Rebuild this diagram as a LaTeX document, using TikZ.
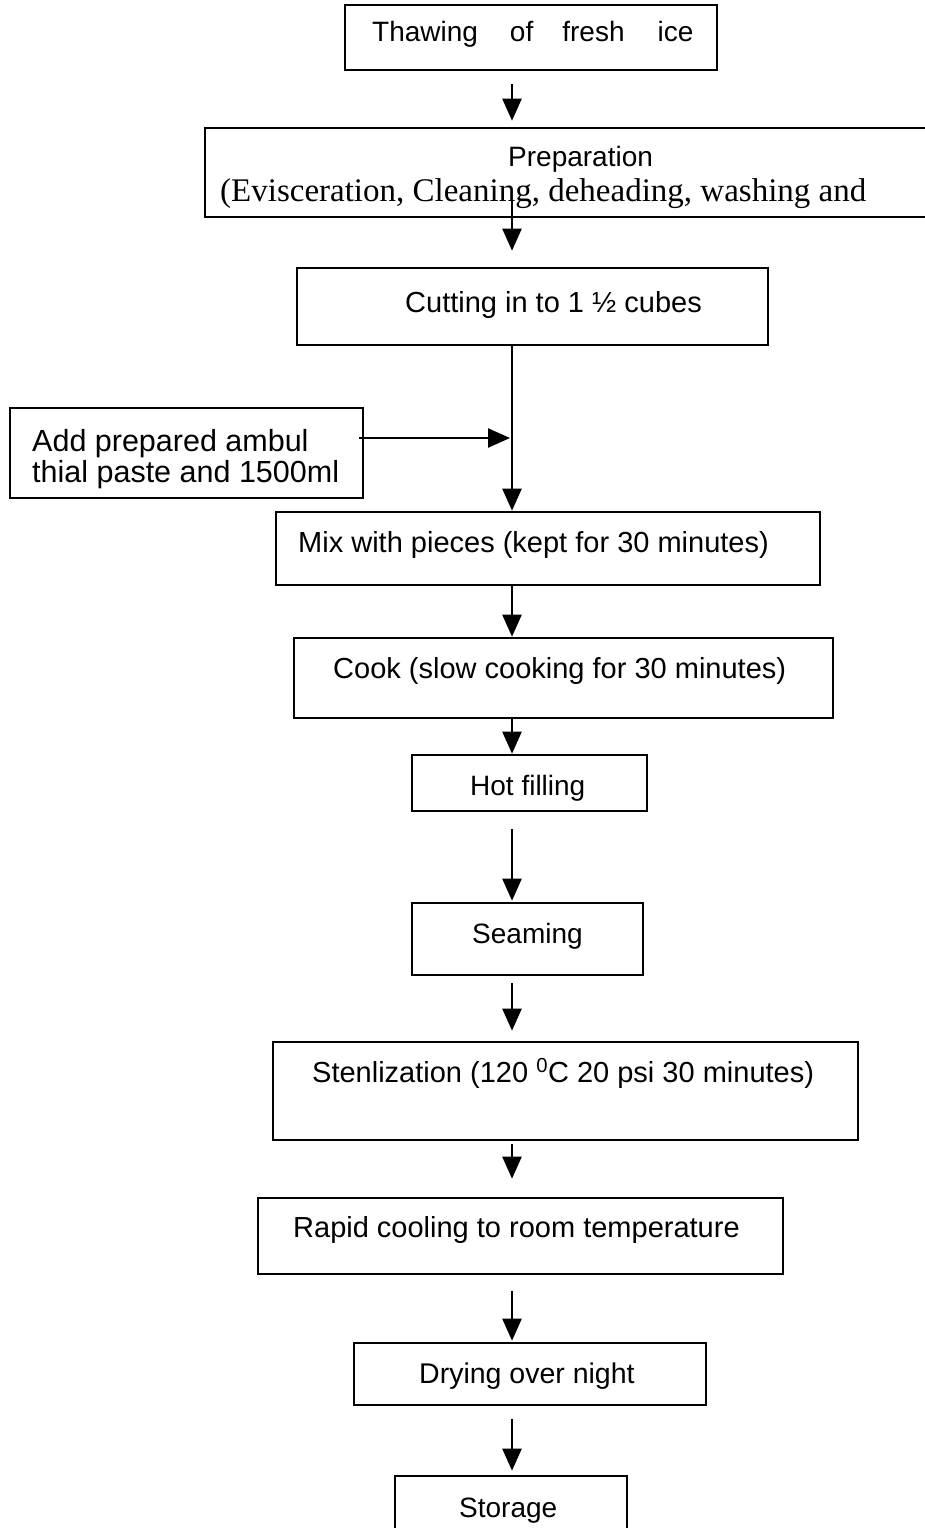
\documentclass[tikz,border=0pt]{standalone}
\usepackage{fontspec}
\setmainfont{Liberation Sans}
\newfontfamily\serifx{Liberation Serif}
\usetikzlibrary{arrows.meta}
\begin{document}
\begin{tikzpicture}[x=1pt,y=-1pt,
  box/.style={draw, line width=2.6pt, rectangle, inner sep=0pt},
  lbl/.style={inner sep=0pt, anchor=base west, font=\fontsize{29}{33}\selectfont},
  arr/.style={line width=2.4pt, -{Triangle[length=22pt,width=19pt]}}]
\useasboundingbox (0,0) rectangle (924,1528);
\coordinate (ax) at (512,0);
% boxes
\node[box, minimum width=372pt, minimum height=65pt] (b1) at (531,37.5) {};
\node[box, minimum width=723pt, minimum height=89pt] (b2) at (566.5,172.5) {};
\node[box, minimum width=471pt, minimum height=77pt] (b3) at (532.5,306.5) {};
\node[box, minimum width=353pt, minimum height=90pt] (b4) at (186.5,453) {};
\node[box, minimum width=544pt, minimum height=73pt] (b5) at (548,548.5) {};
\node[box, minimum width=539pt, minimum height=80pt] (b6) at (563.5,678) {};
\node[box, minimum width=235pt, minimum height=56pt] (b7) at (529.5,783) {};
\node[box, minimum width=231pt, minimum height=72pt] (b8) at (527.5,939) {};
\node[box, minimum width=585pt, minimum height=98pt] (b9) at (565.5,1091) {};
\node[box, minimum width=525pt, minimum height=76pt] (b10) at (520.5,1236) {};
\node[box, minimum width=352pt, minimum height=62pt] (b11) at (530,1374) {};
\node[box, minimum width=232pt, minimum height=84pt] (b12) at (511,1518) {};
% texts
\node[lbl, font=\fontsize{28}{32}\selectfont] (t1) at (372,42) {Thawing\hspace{32pt}of\hspace{29pt}fresh\hspace{33pt}ice};
\node[lbl, font=\fontsize{28}{32}\selectfont] (t2a) at (508,166) {Preparation};
\node[lbl, font=\fontsize{33}{37}\serifx] (t2b) at (220,201) {(Evisceration, Cleaning, deheading, washing and};
\node[lbl] (t3) at (405,312) {Cutting in to 1 ½ cubes};
\node[lbl, font=\fontsize{30.5}{34}\selectfont] (t4a) at (32,451) {Add prepared ambul};
\node[lbl, font=\fontsize{30.5}{34}\selectfont] (t4b) at (32,482) {thial paste and 1500ml};
\node[lbl] (t5) at (298,552) {Mix with pieces (kept for 30 minutes)};
\node[lbl] (t6) at (333,678) {Cook (slow cooking for 30 minutes)};
\node[lbl, font=\fontsize{28}{32}\selectfont] (t7) at (470,795) {Hot filling};
\node[lbl, font=\fontsize{28}{32}\selectfont] (t8) at (472,943) {Seaming};
\node[lbl] (t9) at (312,1082) {Stenlization (120 \textsuperscript{0}C 20 psi 30 minutes)};
\node[lbl] (t10) at (293,1237) {Rapid cooling to room temperature};
\node[lbl, font=\fontsize{28.5}{32}\selectfont] (t11) at (419,1383) {Drying over night};
\node[lbl, font=\fontsize{28}{32}\selectfont] (t12) at (459,1517) {Storage};
% connectors
\draw[arr, shorten <=13pt, shorten >=6pt] (b1.south -| ax) -- (b2.north -| ax);
\draw[arr, shorten >=16pt] ([yshift=17pt]b2.south -| ax) -- (b3.north -| ax);
\draw[arr] (b3.south -| ax) -- (b5.north -| ax);
\draw[arr, shorten >=2pt] ([xshift=-5pt,yshift=15pt]b4.east) -- ([yshift=15pt]b4.east -| ax);
\draw[arr] (b5.south -| ax) -- (b6.north -| ax);
\draw[arr] (b6.south -| ax) -- (b7.north -| ax);
\draw[arr, shorten <=17pt, shorten >=1pt] (b7.south -| ax) -- (b8.north -| ax);
\draw[arr, shorten <=7pt, shorten >=10pt] (b8.south -| ax) -- (b9.north -| ax);
\draw[arr, shorten <=3pt, shorten >=18pt] (b9.south -| ax) -- (b10.north -| ax);
\draw[arr, shorten <=16pt, shorten >=1pt] (b10.south -| ax) -- (b11.north -| ax);
\draw[arr, shorten <=13pt, shorten >=4pt] (b11.south -| ax) -- (b12.north -| ax);
\end{tikzpicture}
\end{document}
